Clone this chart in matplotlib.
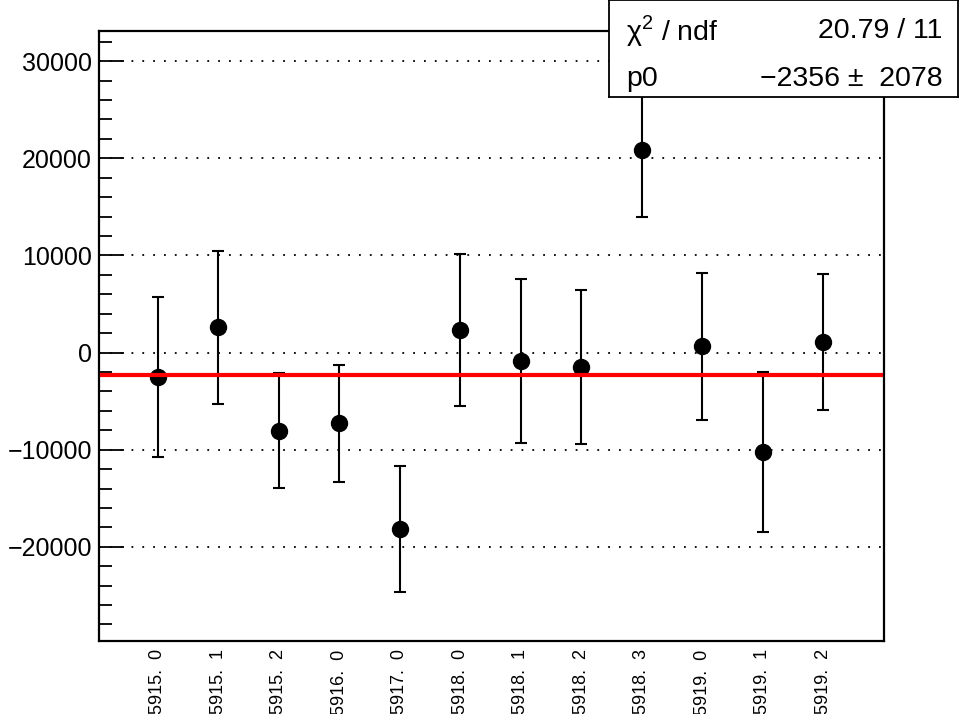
import numpy as np
import matplotlib
matplotlib.use("Agg")
from matplotlib import pyplot as plt
from matplotlib.ticker import MultipleLocator

#======================Data==========================

labels = ["5915. 0", "5915. 1", "5915. 2", "5916. 0", "5917. 0", "5918. 0",
          "5918. 1", "5918. 2", "5918. 3", "5919. 0", "5919. 1", "5919. 2"]
values = [-2500, 2600, -8050, -7300, -18200, 2300,
          -900, -1500, 20800, 650, -10250, 1100]
errors = [8250, 7900, 5900, 6050, 6500, 7800,
          8450, 7900, 6900, 7550, 8250, 7000]
fit_p0 = -2356
fit_err = 2078
chi2 = 20.79
ndf = 11

#======================Plot==========================

plt.rcParams["font.family"] = ["Liberation Sans", "DejaVu Sans"]
plt.rcParams["mathtext.fontset"] = "custom"
plt.rcParams["mathtext.rm"] = "Liberation Sans"

fig = plt.figure(figsize=(9.6, 7.14), dpi=100)
ax = fig.add_axes([99 / 960, 1 - 641 / 714, 785 / 960, 610 / 714])

x = np.arange(len(values))

# dotted grid at the major y ticks
for yv in range(-20000, 30001, 10000):
    ax.axhline(yv, color="black", lw=1.3, ls=(0, (1, 5)), zorder=1)

ax.errorbar(x, values, yerr=errors, fmt="o", color="black", ms=11.5,
            elinewidth=1.5, capsize=4, capthick=1.5, zorder=3)

ax.plot([-0.93, 11.95], [fit_p0, fit_p0], color="#ff0000", lw=3, zorder=4)

ax.set_xlim(-0.975, 12.0)
ax.set_ylim(-29700, 33100)

ax.yaxis.set_major_locator(MultipleLocator(10000))
ax.yaxis.set_minor_locator(MultipleLocator(2000))
ax.tick_params(axis="y", which="major", direction="in", length=18, width=1.3,
               labelsize=18, pad=5, right=False)
ax.tick_params(axis="y", which="minor", direction="in", length=9, width=1.3,
               right=False)
ax.yaxis.set_major_formatter(plt.FuncFormatter(
    lambda v, p: ("\u2212%d" % -v) if v < 0 else "%d" % v))

ax.set_xticks(x)
ax.set_xticklabels([l.replace(" ", "  ") for l in labels], rotation=90,
                   fontsize=13, va="top", ha="center")
ax.tick_params(axis="x", length=0, pad=6)

for s in ax.spines.values():
    s.set_linewidth(1.6)

# fit statistics box
box = fig.add_axes([609 / 960, 1 - 97 / 714, 349 / 960, 97 / 714])
box.set_xticks([])
box.set_yticks([])
for s in box.spines.values():
    s.set_linewidth(1.3)
box.text(0.05, 0.68, "\u03c7$^{\\mathregular{2}}$ / ndf", fontsize=20.5,
         va="center", ha="left", transform=box.transAxes)
box.text(0.955, 0.68, "%.2f / %d" % (chi2, ndf), fontsize=20.5, va="center",
         ha="right", transform=box.transAxes)
box.text(0.05, 0.19, "p0", fontsize=20.5, va="center", ha="left",
         transform=box.transAxes)
box.text(0.955, 0.19, "\u2212%d \u00b1  %d" % (-fit_p0, fit_err),
         fontsize=20.5, va="center", ha="right", transform=box.transAxes)

fig.savefig("out.png", dpi=100)
